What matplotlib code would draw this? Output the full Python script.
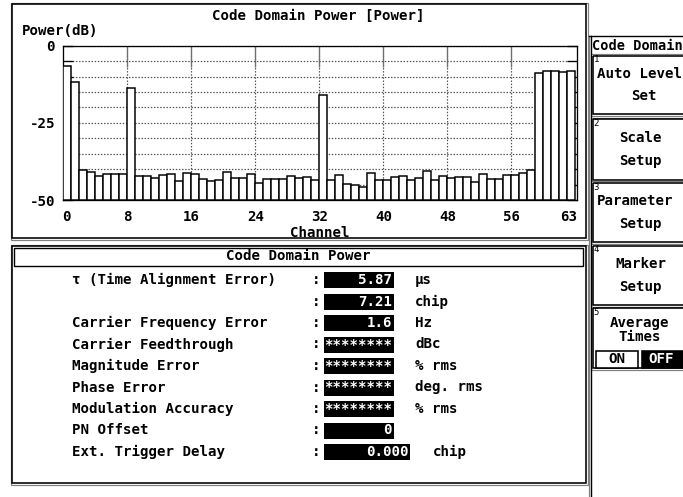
import matplotlib
matplotlib.use("Agg")
import matplotlib.pyplot as plt
from matplotlib.patches import Rectangle

# ---- data ----
channels = list(range(64))
power_db = [
    -6.6, -11.9, -40.3, -41.0, -42.3, -41.5, -41.7, -41.7,
    -13.6, -42.3, -42.3, -42.8, -42.0, -41.7, -43.9, -41.4,
    -41.7, -43.1, -43.7, -43.4, -41.0, -42.8, -42.8, -41.7,
    -44.5, -43.1, -43.1, -43.1, -42.3, -43.0, -42.6, -43.6,
    -16.1, -43.6, -42.0, -44.7, -45.1, -45.9, -41.4, -43.6,
    -43.6, -42.6, -42.3, -43.6, -43.0, -40.7, -43.6, -42.3,
    -43.0, -42.6, -42.6, -44.1, -41.7, -43.1, -43.1, -42.0,
    -42.0, -41.4, -40.4, -8.8, -8.3, -8.3, -8.6, -8.2,
]
x_tick_labels = ["0", "8", "16", "24", "32", "40", "48", "56", "63"]
y_tick_labels = {0: "0", -25: "-25", -50: "-50"}

meas_labels = ["τ (Time Alignment Error)", "", "Carrier Frequency Error",
               "Carrier Feedthrough", "Magnitude Error", "Phase Error",
               "Modulation Accuracy", "PN Offset", "Ext. Trigger Delay"]
meas_values = ["5.87", "7.21", "1.6", "********", "********", "********",
               "********", "0", "0.000"]
meas_units = ["µs", "chip", "Hz", "dBc", "% rms", "deg. rms", "% rms", "", "chip"]

menu_buttons = [("1", ["Auto Level", "Set"]), ("2", ["Scale", "Setup"]),
                ("3", ["Parameter", "Setup"]), ("4", ["Marker", "Setup"]),
                ("5", ["Average", "Times"])]

W, H = 683, 497
FONT = dict(family="DejaVu Sans Mono", fontweight="bold", fontsize=10.2)
px = 0.72  # one pixel in points at 100 dpi
DOT = (0, (1.2, 1.4))

fig = plt.figure(figsize=(W / 100, H / 100), dpi=100)
fig.patch.set_facecolor("white")

# background axes in pixel coordinates for the frames and texts
bg = fig.add_axes([0, 0, 1, 1])
bg.set_xlim(0, W)
bg.set_ylim(H, 0)
bg.axis("off")


def frame(x0, y0, x1, y1, fill="none", lw=1.6, gray=True):
    if gray:
        bg.add_patch(Rectangle((x0 - 1.5, y0 - 1.5), x1 - x0 + 3, y1 - y0 + 3,
                               fill=False, ec="#808080", lw=1.2 * px))
    bg.add_patch(Rectangle((x0, y0), x1 - x0, y1 - y0, fc=fill,
                           ec="black", lw=lw * px))


def txt(x, y, s, ha="left", color="black", **kw):
    opts = dict(FONT)
    opts.update(kw)
    bg.text(x, y, s, ha=ha, va="center", color=color, **opts)


# ---- top panel ----
frame(12, 4, 586, 238)
txt(318, 16.5, "Code Domain Power [Power]", ha="center")
txt(22, 31, "Power(dB)")

# ---- bottom panel ----
frame(12, 246, 586, 483)
bg.add_patch(Rectangle((13.5, 247.5), 569.5, 18.5, fill=False, ec="black", lw=1.4 * px))
txt(298, 256.5, "Code Domain Power", ha="center")

row_y0, row_dy = 280, 21.5
for i, (lab, val, unit) in enumerate(zip(meas_labels, meas_values, meas_units)):
    y = row_y0 + i * row_dy
    if lab:
        txt(71.5, y, lab)
    txt(316.5, y, ":", ha="center")
    right = 410 if i == len(meas_labels) - 1 else 393.5
    bg.add_patch(Rectangle((323.5, y - 8), right - 323.5, 16, fc="black", ec="none"))
    txt(right - 1.5, y, val, ha="right", color="white")
    if unit:
        txt(432.5 if i == len(meas_labels) - 1 else 415, y, unit)

# ---- right menu ----
bg.plot([589, 589], [36, H], color="#808080", lw=1.2 * px)
bg.plot([590.5, 590.5], [36, H], color="black", lw=1.4 * px)
bg.plot([589, W], [35.5, 35.5], color="black", lw=1.4 * px)
txt(591.5, 46, "Code Domain", fontsize=9.8)
btn_tops = [55.5, 119, 182.5, 245.5, 308]
btn_bots = [114, 179.5, 242, 305, 368]
for (num, lines), top, bot in zip(menu_buttons, btn_tops, btn_bots):
    frame(592.5, top, W + 3, bot, gray=True)
    txt(593.5, top + 4.5, num, fontsize=6.5, fontweight="normal")
    if num == "5":
        txt(640, top + 15, lines[0], ha="center")
        txt(640, top + 29, lines[1], ha="center")
    else:
        dy = (bot - top) / 3
        x, ha = 640.5, "center"
        if lines[0] in ("Auto Level", "Parameter"):
            x, ha = 597, "left"
        txt(x, top + dy * 0.95, lines[0], ha=ha)
        txt(644 if lines[1] == "Set" else 640.5, top + dy * 2.1, lines[1], ha="center")

bg.add_patch(Rectangle((595.5, 350.5), 42.5, 17, fc="white", ec="black", lw=1.6 * px))
bg.add_patch(Rectangle((641.5, 350.5), 45, 17, fc="black", ec="black", lw=1.6 * px))
txt(617, 359, "ON", ha="center")
txt(661, 359, "OFF", ha="center", color="white")

# ---- bar chart ----
ax_l, ax_r, ax_t, ax_b = 63.3, 577.0, 45.7, 200.0
ax = fig.add_axes([ax_l / W, 1 - ax_b / H, (ax_r - ax_l) / W, (ax_b - ax_t) / H])
ax.set_facecolor("white")
heights = [v - (-50) for v in power_db]
ax.bar(channels, heights, bottom=-50, width=1, align="edge",
       color="white", edgecolor="black", linewidth=1.5 * px, zorder=3)
ax.set_xlim(0, 64.2)
ax.set_ylim(-50, 0)

ax.xaxis.remove_overlapping_locs = False
ax.set_xticks([0.4, 8, 16, 24, 32, 40, 48, 56, 63.1])
ax.set_xticklabels(x_tick_labels, **FONT)
ax.set_xticks(range(8, 64, 8), minor=True)
ax.tick_params(axis="x", which="major", length=0, pad=7.5)
ax.tick_params(axis="x", which="minor", direction="in", top=True, bottom=False,
               length=15, width=1.3 * px, color="#707070")
ax.grid(axis="x", which="minor", color="#505050", linestyle=DOT, lw=1.2 * px, zorder=1)

yt = list(range(-50, 1, 5))
ax.set_yticks(yt)
ax.set_yticklabels([y_tick_labels.get(v, "") for v in yt], **FONT)
ax.tick_params(axis="y", direction="in", left=True, right=True, length=7,
               width=1.3 * px, color="black", pad=6)
ax.grid(axis="y", which="major", color="#505050", linestyle=DOT, lw=1.2 * px, zorder=1)
ax.set_xlabel("Channel", labelpad=1, **FONT)
for s in ax.spines.values():
    s.set_linewidth(1.3 * px)
    s.set_color("black")

fig.savefig("out.png", dpi=100, facecolor="white")
